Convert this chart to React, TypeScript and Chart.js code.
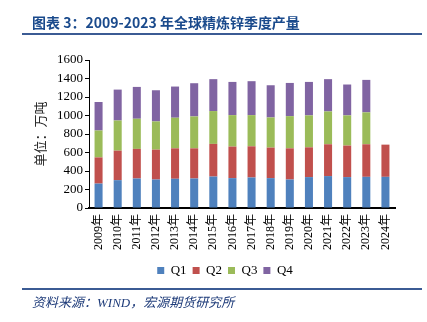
import React, { useEffect, useRef } from "react";
import { Chart, registerables } from "chart.js";

Chart.register(...registerables);

const years = ["2009年", "2010年", "2011年", "2012年", "2013年", "2014年", "2015年", "2016年", "2017年", "2018年", "2019年", "2020年", "2021年", "2022年", "2023年", "2024年"];
const q1 = [264, 301, 319, 308, 316, 319, 340, 323, 330, 323, 308, 334, 345, 334, 337, 337];
const q2 = [283, 319, 320, 323, 329, 326, 353, 341, 337, 330, 337, 322, 344, 341, 352, 348];
const q3 = [291, 326, 326, 305, 331, 345, 355, 340, 337, 326, 348, 345, 355, 326, 345, null];
const q4 = [308, 334, 344, 337, 337, 359, 345, 359, 367, 348, 359, 362, 349, 334, 351, null];
const yTicks = [0, 200, 400, 600, 800, 1000, 1200, 1400, 1600];

const seriesNames = ["Q1", "Q2", "Q3", "Q4"];
const seriesColors = ["#4f81bd", "#c0504d", "#9bbb59", "#8064a2"];

const serif = "'Liberation Serif', 'Times New Roman', serif";
const cjk = "'Noto Sans CJK SC', sans-serif";

export default function App() {
  const ref = useRef<HTMLCanvasElement | null>(null);
  useEffect(() => {
    if (!ref.current) return;
    const data = [q1, q2, q3, q4];
    const chart = new Chart(ref.current, {
      type: "bar",
      data: {
        labels: years,
        datasets: seriesNames.map((n, i) => ({
          label: n,
          data: data[i] as any,
          backgroundColor: seriesColors[i],
          borderWidth: 0,
          categoryPercentage: 1,
          barPercentage: 0.42,
        })),
      },
      options: {
        animation: false,
        responsive: false,
        layout: { padding: { top: 60, left: 55, right: 32, bottom: 35 } },
        plugins: {
          tooltip: { enabled: false },
          legend: {
            position: "bottom",
            labels: {
              boxWidth: 7,
              boxHeight: 7,
              padding: 6,
              color: "#000",
              font: { family: serif, size: 13 },
            },
          },
        },
        scales: {
          x: {
            stacked: true,
            grid: { display: false, drawTicks: false },
            border: { color: "#000", width: 2 },
            ticks: {
              color: "#000",
              minRotation: 90,
              maxRotation: 90,
              padding: 6,
              autoSkip: false,
              font: { family: serif + ", " + cjk, size: 12 },
            },
            afterFit: (s: any) => { s.height = 50; },
          },
          y: {
            stacked: true,
            min: 0,
            max: 1600,
            afterBuildTicks: (s: any) => { s.ticks = yTicks.map((v) => ({ value: v })); },
            grid: { drawOnChartArea: false, drawTicks: true, tickLength: 4, color: "#000" },
            border: { color: "#000", width: 1 },
            ticks: {
              color: "#000",
              padding: 2,
              autoSkip: false,
              callback: (v: any) => String(v),
              font: { family: serif, size: 13 },
            },
            title: {
              display: true,
              text: "单位：万吨",
              color: "#222",
              padding: { top: -23, bottom: 0 },
              font: { family: cjk, size: 13 },
            },
            afterFit: (s: any) => { s.width = 34; },
          },
        },
      },
    });
    return () => chart.destroy();
  }, []);

  return (
    <div style={{ position: "absolute", left: 0, top: 0, width: 427, height: 322, background: "#fff", overflow: "hidden" }}>
      <canvas ref={ref} width={427} height={322} style={{ position: "absolute", left: 0, top: 0 }} />
      <div style={{ position: "absolute", left: 32, top: 12, fontFamily: cjk, fontWeight: 700, fontSize: 14, color: "#1a4a8c", whiteSpace: "nowrap", lineHeight: "20px" }}>
        图表 3：2009-2023 年全球精炼锌季度产量
      </div>
      <div style={{ position: "absolute", left: 22, top: 33, width: 400, height: 2, background: "#3b5b94" }} />
      <div style={{ position: "absolute", left: 22, top: 288, width: 400, height: 2, background: "#3b5b94" }} />
      <div style={{ position: "absolute", left: 32, top: 294, fontFamily: serif + ", " + cjk, fontStyle: "italic", fontSize: 13, color: "#1f3c7a", whiteSpace: "nowrap", lineHeight: "18px" }}>
        资料来源：WIND，宏源期货研究所
      </div>
    </div>
  );
}
